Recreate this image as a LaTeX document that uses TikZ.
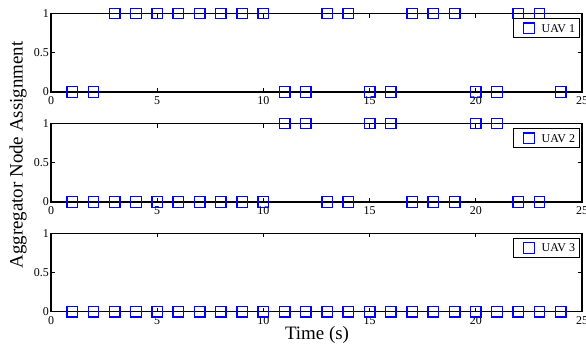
\documentclass[tikz,border=0pt]{standalone}
\usepackage{fontspec}
\setmainfont{Liberation Serif}
\definecolor{mkblue}{RGB}{0,0,255}
\begin{document}
\begin{tikzpicture}[x=1bp,y=-1bp,
  axis/.style={line width=1.1bp},
  tk/.style={line width=0.8bp},
  mk/.style={draw=mkblue, line width=1.4bp, minimum size=10.5bp, inner sep=0pt, shape=rectangle},
  lab/.style={font=\fontsize{12}{12}\selectfont, inner sep=0pt},
  big/.style={font=\fontsize{19}{19}\selectfont, inner sep=0pt},
  leg/.style={draw=black, line width=1.1bp},
 ]
\useasboundingbox (0,0) rectangle (586,345);
\def\xo{51}\def\xs{21.24}\def\H{78.5}
\foreach \B/\n/\data in {92/1/{0,0,1,1,1,1,1,1,1,1,0,0,1,1,0,0,1,1,1,0,0,1,1,0},
                         202/2/{0,0,0,0,0,0,0,0,0,0,1,1,0,0,1,1,0,0,0,1,1,0,0},
                         311.7/3/{0,0,0,0,0,0,0,0,0,0,0,0,0,0,0,0,0,0,0,0,0,0,0,0}}{
  % frame
  \draw[axis] ({\xo},{\B-\H}) rectangle ({\xo+25*\xs},{\B});
  % x ticks
  \foreach \k in {0,...,5}{
    \pgfmathtruncatemacro\lbl{5*\k}
    \draw[tk] ({\xo+5*\k*\xs},{\B}) -- ++(0,-4);
    \draw[tk] ({\xo+5*\k*\xs},{\B-\H}) -- ++(0,4);
    \node[lab] (xl\n-\k) at ({\xo+5*\k*\xs},{\B+9}) {\lbl};
  }
  % y ticks
  \foreach \v/\t [count=\j] in {0/0,0.5/0.5,1/1}{
    \draw[tk] ({\xo},{\B-\H*\v}) -- ++(4,0);
    \draw[tk] ({\xo+25*\xs},{\B-\H*\v}) -- ++(-4,0);
    \node[lab, anchor=east] (yl\n-\j) at (49,{\B-\H*\v}) {\t};
  }
  % data
  \foreach \v [count=\t] in \data{
    \node[mk] (m\n-\t) at ({\xo+\t*\xs},{\B-\H*\v}) {};
  }
  % legend
  \draw[leg] (513.7,{\B-\H+5.3}) rectangle (579.3,{\B-\H+24.3});
  \node[mk] (lm\n) at (529,{\B-\H+14.8}) {};
  \node[lab, anchor=west] (lt\n) at (541.5,{\B-\H+14.8}) {UAV \n};
}
\node[big, rotate=90] (ylab) at (18,155) {Aggregator Node Assignment};
\node[big] (xlab) at (317,335) {Time (s)};
\end{tikzpicture}
\end{document}
